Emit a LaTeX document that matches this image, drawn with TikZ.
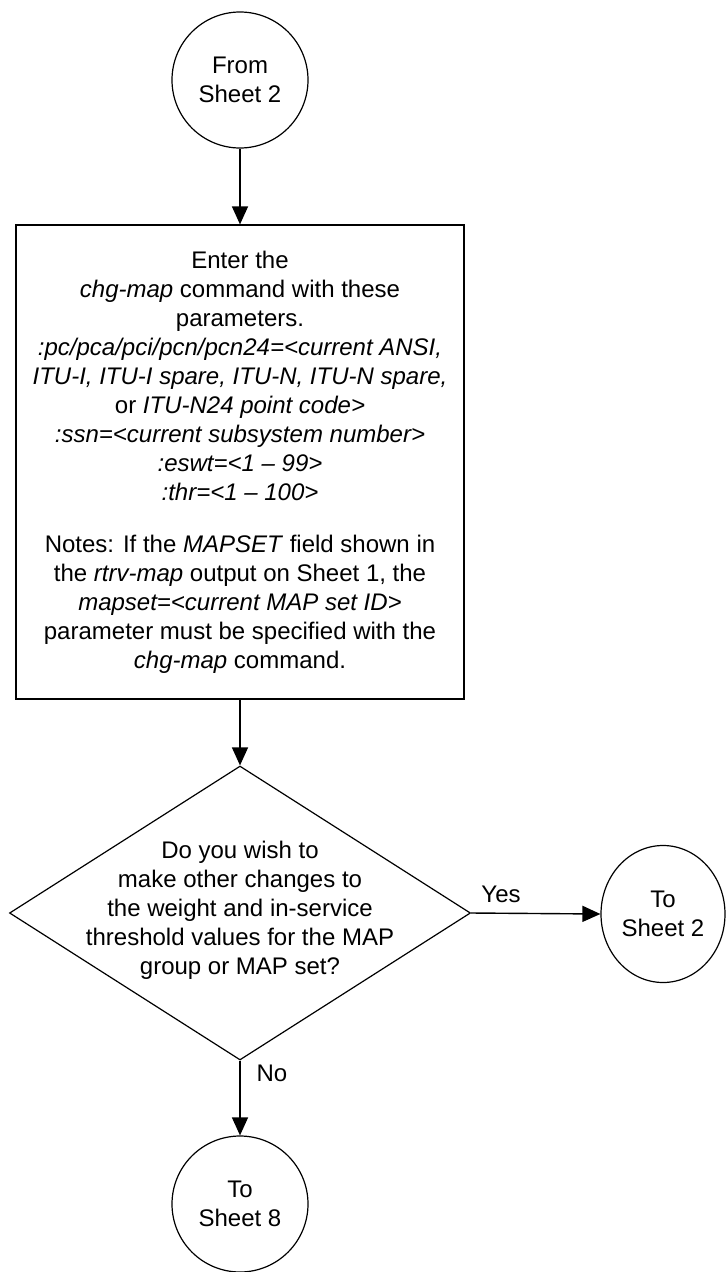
\documentclass[tikz,border=0pt]{standalone}
\usepackage{fontspec}
\setmainfont{Liberation Sans}
\usetikzlibrary{shapes.geometric,arrows.meta}
\begin{document}
\begin{tikzpicture}[x=1pt,y=-1pt,
  every node/.style={font=\fontsize{24}{29}\selectfont},
  conn/.style={circle, draw, line width=1.2pt, minimum size=136pt, inner sep=0pt, align=center},
  connell/.style={ellipse, draw, line width=1.2pt, minimum width=124pt, minimum height=137pt, inner sep=0pt, align=center},
  procbox/.style={rectangle, draw, line width=1.2pt, minimum width=448pt, minimum height=474pt, align=center, inner sep=0pt},
  decis/.style={diamond, draw, line width=1.2pt, minimum width=461pt, minimum height=294pt, inner sep=0pt},
  flow/.style={line width=1.4pt, -{Triangle[length=18pt,width=16pt]}},
  lbl/.style={inner sep=0pt, align=center}]
\useasboundingbox (0,0) rectangle (726,1272);
\node[conn] (from) at (240,80) {From\\Sheet 2};
\node[procbox] (box) at (240,462) {Enter the\\
\textit{chg-map} command with these\\
parameters.\\
\textit{:pc/pca/pci/pcn/pcn24=<current ANSI,}\\
\textit{ITU-I, ITU-I spare, ITU-N, ITU-N spare,}\\
or \textit{ITU-N24 point code>}\\
\textit{:ssn=<current subsystem number>}\\
\textit{:eswt=<1 – 99>}\\
\textit{:thr=<1 – 100>}\\[23pt]
Notes: If the \textit{MAPSET} field shown in\\
the \textit{rtrv-map} output on Sheet 1, the\\
\textit{mapset=<current MAP set ID>}\\
parameter must be specified with the\\
\textit{chg-map} command.};
\node[decis] (dec) at (240,913) {};
\node[lbl] (dectext) at (240,910) {Do you wish to\\make other changes to\\the weight and in-service\\threshold values for the MAP\\group or MAP set?};
\node[connell] (to2) at (663,914) {To\\Sheet 2};
\node[conn] (to8) at (240,1204) {To\\Sheet 8};
\draw[flow] (from.south) -- (box.north);
\draw[flow] (box.south) -- (dec.north);
\draw[flow] (dec.east) -- (to2.west);
\draw[flow] (dec.south) -- (to8.north);
\node[lbl] (yes) at (501,894) {Yes};
\node[lbl] (no) at (272,1073) {No};
\end{tikzpicture}
\end{document}
